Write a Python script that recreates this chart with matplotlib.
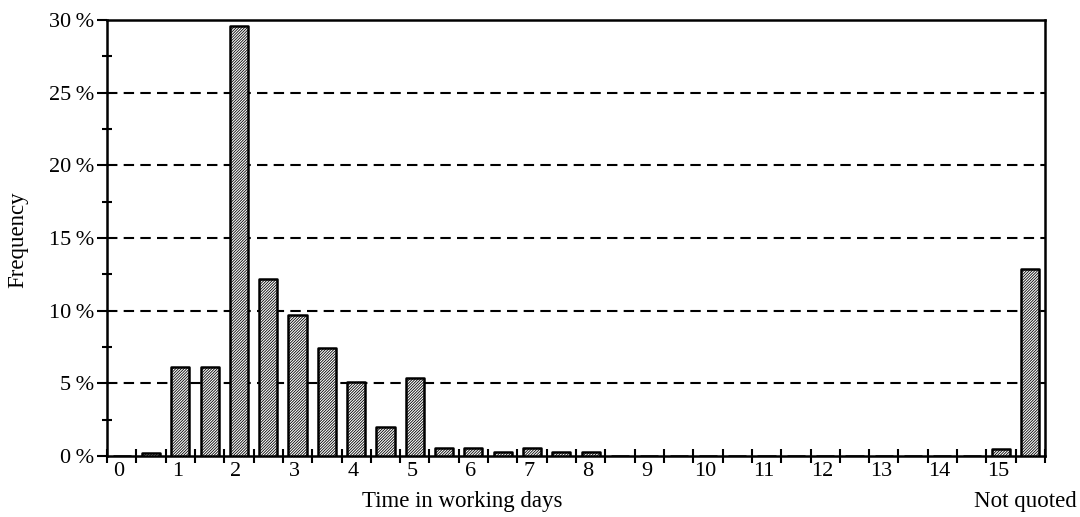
import numpy as np
import matplotlib
matplotlib.use("Agg")
import matplotlib.pyplot as plt

plt.rcParams['font.family'] = ['Liberation Serif', 'DejaVu Serif']
plt.rcParams['hatch.linewidth'] = 0.6

# half-day bins 0 .. 15, then "Not quoted"
days = [i / 2 for i in range(31)]
freq = [0.0, 0.2, 6.1, 6.1, 29.6, 12.2, 9.7, 7.4, 5.1, 2.0, 5.4,
        0.55, 0.55, 0.3, 0.55, 0.3, 0.25,
        0, 0, 0, 0, 0, 0, 0, 0, 0, 0, 0, 0, 0,
        0.5]
not_quoted = 12.9

day_labels = [str(d) for d in range(16)]
ytick_vals = [0, 5, 10, 15, 20, 25, 30]

fig = plt.figure(figsize=(10.8, 5.17), dpi=100)
ax = fig.add_axes([107/1080, 1 - 456/517, 938/1080, 436/517])

vals = freq + [not_quoted]
pos = np.arange(len(vals)) + 0.5
ax.bar(pos, vals, width=0.62, facecolor='white', edgecolor='black',
       linewidth=1.8, hatch='/' * 12, joinstyle='round', zorder=3)

ax.set_xlim(0, len(vals))
ax.set_ylim(0, 30)

# dashed reference lines
for y in ytick_vals[1:-1]:
    ax.axhline(y, color='black', lw=1.5, ls=(0, (5, 3)), zorder=1)

for s in ax.spines.values():
    s.set_linewidth(1.8)

# x ticks at bin boundaries, labels under whole days
ax.set_xticks(np.arange(0, len(vals) + 1))
ax.set_xticklabels([])
ax.tick_params(axis='x', which='major', direction='inout', length=10, width=1.5)
ax.set_xticks([2 * d + 0.4 for d in range(16)], minor=True)
ax.set_xticklabels(day_labels, minor=True, fontsize=16)
ax.tick_params(axis='x', which='minor', length=0, pad=4)

ax.set_yticks(ytick_vals)
ax.set_yticklabels([f"{v}\u2009%" for v in ytick_vals], fontsize=16)
ax.set_yticks(np.arange(0, 30.1, 2.5), minor=True)
ax.tick_params(axis='y', which='major', direction='out', length=7, width=1.5, pad=2)
ax.tick_params(axis='y', which='minor', direction='inout', length=7, width=1.5)

fig.text(462/1080, 1 - 502/517, "Time in working days", fontsize=16.5,
         ha='center', va='center')
fig.text(1025/1080, 1 - 502/517, "Not quoted", fontsize=16.5,
         ha='center', va='center')
fig.text(18/1080, 1 - 240/517, "Frequency", rotation=90, fontsize=16.5,
         ha='center', va='center')

fig.savefig("out.png", dpi=100)
